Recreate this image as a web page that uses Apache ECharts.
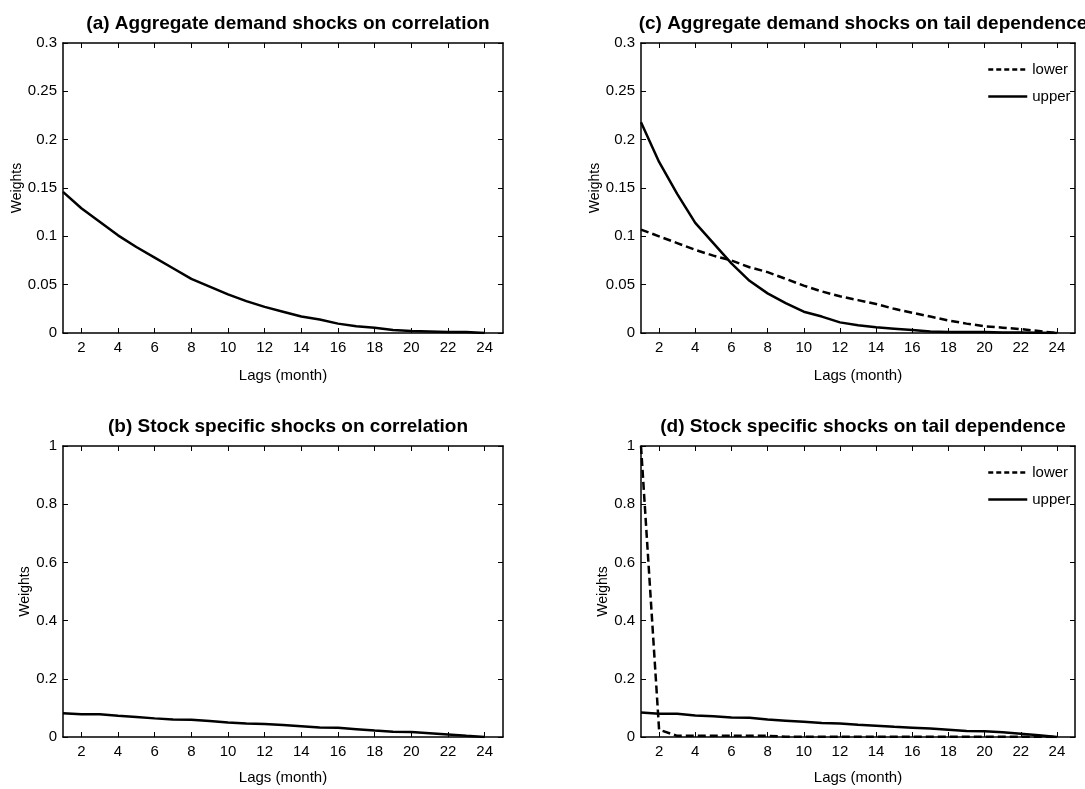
<!DOCTYPE html>
<html>
<head>
<meta charset="utf-8">
<script src="https://cdn.jsdelivr.net/npm/echarts@6/dist/echarts.min.js"></script>
<style>
html,body{margin:0;padding:0;background:#fff;}
#chart{width:1085px;height:789px;}
</style>
</head>
<body>
<div id="chart"></div>
<script>
// ---- data ----
const lags = [1,2,3,4,5,6,7,8,9,10,11,12,13,14,15,16,17,18,19,20,21,22,23,24];
const xTickValues = [2,4,6,8,10,12,14,16,18,20,22,24];
const titles = [
  '(a) Aggregate demand shocks on correlation',
  '(b) Stock specific shocks on correlation',
  '(c) Aggregate demand shocks on tail dependence',
  '(d) Stock specific shocks on tail dependence'
];
const legendNames = ['lower', 'upper'];
const xAxisName = 'Lags (month)';
const yAxisName = 'Weights';

const aDemandCorr = [0.146,0.129,0.115,0.101,0.089,0.078,0.067,0.056,0.048,0.040,0.033,0.027,0.022,0.017,0.014,0.0097,0.007,0.0055,0.003,0.002,0.0015,0.001,0.001,0];
const bSpecificCorr = [0.082,0.078,0.078,0.073,0.069,0.064,0.060,0.059,0.055,0.050,0.046,0.045,0.041,0.037,0.033,0.032,0.027,0.022,0.018,0.017,0.013,0.009,0.004,0];
const cDemandLower = [0.107,0.100,0.093,0.086,0.080,0.075,0.068,0.063,0.056,0.049,0.043,0.038,0.034,0.030,0.025,0.021,0.017,0.013,0.0097,0.007,0.0055,0.004,0.002,0];
const cDemandUpper = [0.218,0.177,0.144,0.114,0.093,0.072,0.054,0.041,0.031,0.022,0.017,0.011,0.008,0.006,0.0045,0.003,0.0015,0.001,0.001,0.001,0.0005,0.0005,0.0003,0];
const dSpecificLower = [1.0,0.025,0.004,0.004,0.004,0.004,0.004,0.004,0.001,0.001,0.001,0.001,0.001,0.001,0.001,0.001,0.001,0.001,0.001,0.001,0.001,0.001,0.001,0];
const dSpecificUpper = [0.084,0.080,0.080,0.074,0.071,0.067,0.066,0.060,0.056,0.052,0.048,0.046,0.042,0.039,0.035,0.032,0.029,0.025,0.021,0.020,0.016,0.011,0.006,0];

// ---- layout / style ----
const NARROW = "'Liberation Sans Narrow','Arial Narrow',sans-serif";
const REG = "'Liberation Sans',Arial,sans-serif";
const panels = [
  {grid:{left:63, top:43, width:440, height:290}, yMax:0.3, yInt:0.05, nameGap:37},
  {grid:{left:63, top:446, width:440, height:291}, yMax:1, yInt:0.2, nameGap:30},
  {grid:{left:641, top:43, width:434, height:290}, yMax:0.3, yInt:0.05, nameGap:37},
  {grid:{left:641, top:446, width:434, height:291}, yMax:1, yInt:0.2, nameGap:31}
];
const axisLine = {show:true, onZero:false, lineStyle:{color:'#000', width:1.5}};
const tickStyle = {show:true, inside:true, length:5, lineStyle:{color:'#000', width:1}};
const labelStyle = {color:'#000', fontFamily:NARROW, fontSize:15};

const grids = [], xAxes = [], yAxes = [], titleComps = [];
panels.forEach((p, i) => {
  grids.push(Object.assign({containLabel:false}, p.grid));
  xAxes.push({
    type:'value', gridIndex:i, position:'bottom', min:1, max:25,
    axisLine, splitLine:{show:false},
    axisTick:Object.assign({customValues:xTickValues}, tickStyle),
    axisLabel:Object.assign({customValues:xTickValues, margin:7}, labelStyle),
    name:xAxisName, nameLocation:'middle', nameGap:i % 2 === 1 ? 33 : 35,
    nameTextStyle:{color:'#000', fontFamily:NARROW, fontSize:15}
  });
  xAxes.push({
    type:'value', gridIndex:i, position:'top', min:1, max:25,
    axisLine, splitLine:{show:false},
    axisTick:Object.assign({customValues:xTickValues}, tickStyle),
    axisLabel:{show:false}
  });
  yAxes.push({
    type:'value', gridIndex:i, position:'left', min:0, max:p.yMax, interval:p.yInt,
    axisLine, splitLine:{show:false}, axisTick:tickStyle,
    axisLabel:Object.assign({margin:6}, labelStyle),
    name:yAxisName, nameLocation:'middle', nameGap:p.nameGap, nameRotate:90,
    nameTextStyle:{color:'#000', fontFamily:REG, fontSize:14}
  });
  yAxes.push({
    type:'value', gridIndex:i, position:'right', min:0, max:p.yMax, interval:p.yInt,
    axisLine, splitLine:{show:false}, axisTick:tickStyle, axisLabel:{show:false}
  });
  titleComps.push({
    text:titles[i], left:p.grid.left + p.grid.width/2, top:p.grid.top - 34,
    textAlign:'center',
    textStyle:{color:'#000', fontFamily:NARROW, fontWeight:'bold', fontSize:19}
  });
});

function mk(name, vals, panel, dashed){
  return {
    name:name, type:'line', xAxisIndex:panel*2, yAxisIndex:panel*2,
    data:lags.map((x,k)=>[x, vals[k]]),
    symbol:'none', showSymbol:false, smooth:false, animation:false,
    lineStyle:{color:'#000', width:2.5, type: dashed ? [8,4] : 'solid'},
    itemStyle:{color:'#000'}
  };
}

const series = [
  mk('a', aDemandCorr, 0, false),
  mk('b', bSpecificCorr, 1, false),
  mk(legendNames[0], cDemandLower, 2, true),
  mk(legendNames[1], cDemandUpper, 2, false),
  mk(legendNames[0], dSpecificLower, 3, true),
  mk(legendNames[1], dSpecificUpper, 3, false)
];

const legendBase = {
  orient:'vertical',
  data:[{name:legendNames[0], lineStyle:{type:[5,3]}}, {name:legendNames[1]}],
  itemWidth:39, itemHeight:14, itemGap:12,
  padding:0, selectedMode:false,
  itemStyle:{opacity:0},
  lineStyle:{width:2.5},
  textStyle:{color:'#000', fontFamily:NARROW, fontSize:15}
};

const chart = echarts.init(document.getElementById('chart'), null, {renderer:'canvas'});
chart.setOption({
  backgroundColor:'#fff',
  animation:false,
  title:titleComps,
  grid:grids,
  xAxis:xAxes,
  yAxis:yAxes,
  legend:[
    Object.assign({left:987, top:62}, legendBase),
    Object.assign({left:987, top:465}, legendBase)
  ],
  series:series
});
</script>
</body>
</html>
